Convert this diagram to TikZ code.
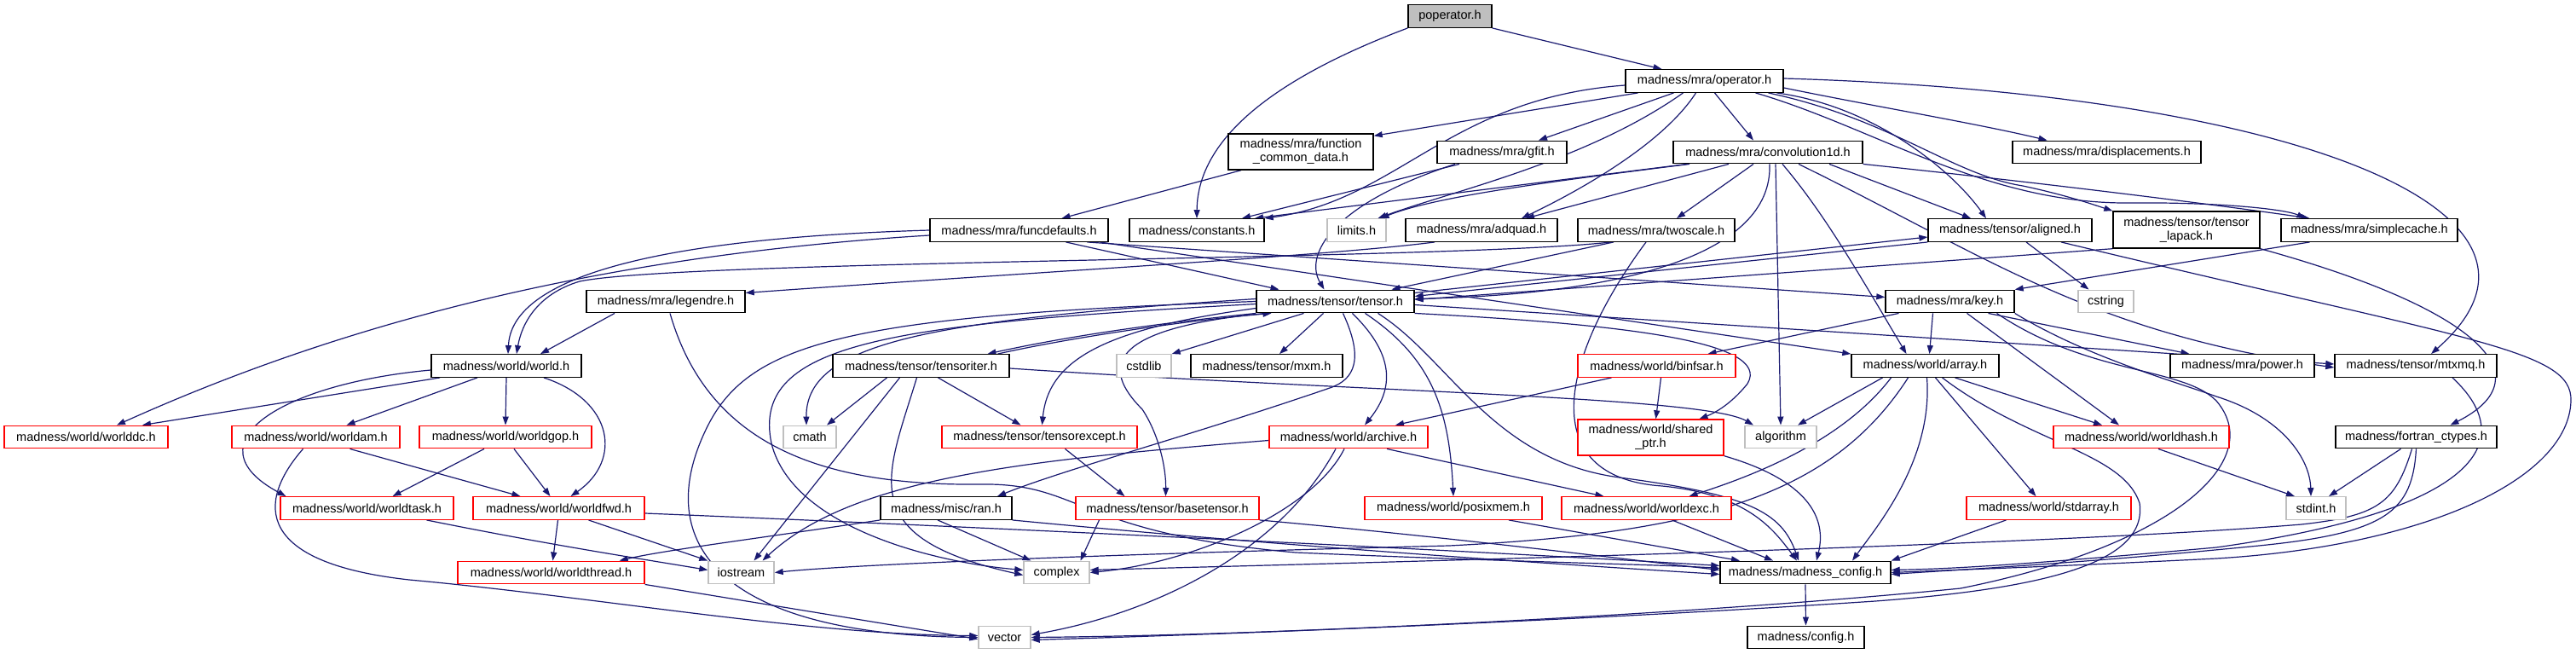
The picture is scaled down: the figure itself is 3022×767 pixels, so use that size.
\documentclass[tikz,border=0pt]{standalone}
\usepackage{fontspec}
\setmainfont{Liberation Sans}
\usetikzlibrary{arrows.meta}
\definecolor{edgec}{HTML}{191970}
\definecolor{grayc}{HTML}{BFBFBF}
\pgfdeclarelayer{bg}
\pgfdeclarelayer{back}
\pgfsetlayers{back,bg,main}
\begin{document}
\begin{tikzpicture}[x=1pt,y=-1pt,
  nb/.style={draw=black, line width=1.4pt, fill=white, inner sep=0pt, minimum height=26.5pt, font=\fontsize{14.5}{16}\selectfont, text=black, align=center},
  nr/.style={nb, draw=red},
  ng/.style={nb, draw=grayc},
  e/.style={draw=edgec, line width=1.2pt, -{Triangle[length=10pt,width=7pt]}}]
\begin{pgfonlayer}{back}
\fill[white] (0,0) rectangle (3022,767);
\end{pgfonlayer}
\useasboundingbox (0,0) rectangle (3022,767);
% nodes
\node[nb, fill=grayc, minimum width=98pt] (pop) at (1701,19) {poperator.h};
\node[nb, minimum width=185pt] (op) at (1999.5,95) {madness/mra/operator.h};
\node[nb, minimum width=170pt, minimum height=42pt] (fcd) at (1526,178) {madness/mra/function\\\_common\_data.h};
\node[nb, minimum width=152pt] (gfit) at (1762,178.5) {madness/mra/gfit.h};
\node[nb, minimum width=222pt] (conv) at (2074,178.5) {madness/mra/convolution1d.h};
\node[nb, minimum width=221pt] (disp) at (2471.5,178.5) {madness/mra/displacements.h};
\node[nb, minimum width=209pt] (fd) at (1195.5,270) {madness/mra/funcdefaults.h};
\node[nb, minimum width=158pt] (const) at (1404,270) {madness/constants.h};
\node[ng, minimum width=69pt] (limits) at (1591.5,270) {limits.h};
\node[nb, minimum width=178pt] (adq) at (1738,270) {madness/mra/adquad.h};
\node[nb, minimum width=184pt] (twos) at (1943,270) {madness/mra/twoscale.h};
\node[nb, minimum width=192pt] (ali) at (2358,270) {madness/tensor/aligned.h};
\node[nb, minimum width=172pt, minimum height=43pt] (tl) at (2565,269.5) {madness/tensor/tensor\\\_lapack.h};
\node[nb, minimum width=207pt] (sc) at (2779.5,270) {madness/mra/simplecache.h};
\node[nb, minimum width=186pt] (leg) at (781,353.5) {madness/mra/legendre.h};
\node[nb, minimum width=185pt] (ten) at (1566.5,353.5) {madness/tensor/tensor.h};
\node[nb, minimum width=151pt] (key) at (2287.5,353.5) {madness/mra/key.h};
\node[ng, minimum width=65pt] (cstr) at (2470.5,353.5) {cstring};
\node[nb, minimum width=176pt] (world) at (594,429) {madness/world/world.h};
\node[nb, minimum width=207pt] (ti) at (1080.5,429) {madness/tensor/tensoriter.h};
\node[ng, minimum width=64pt] (cstd) at (1342,429) {cstdlib};
\node[nb, minimum width=178pt] (mxm) at (1486,429) {madness/tensor/mxm.h};
\node[nr, minimum width=185pt] (bin) at (1943.5,429) {madness/world/binfsar.h};
\node[nb, minimum width=173pt] (arr) at (2258.5,429) {madness/world/array.h};
\node[nb, minimum width=169pt] (pow) at (2630.5,429) {madness/mra/power.h};
\node[nb, minimum width=190pt] (mtx) at (2834,429) {madness/tensor/mtxmq.h};
\node[nr, minimum width=192pt] (wdc) at (101,512.5) {madness/world/worlddc.h};
\node[nr, minimum width=197pt] (wam) at (370.5,512.5) {madness/world/worldam.h};
\node[nr, minimum width=202pt] (wgop) at (593,512.5) {madness/world/worldgop.h};
\node[ng, minimum width=62pt] (cmath) at (950,512.5) {cmath};
\node[nr, minimum width=229pt] (tex) at (1219.5,512.5) {madness/tensor/tensorexcept.h};
\node[nr, minimum width=186pt] (arch) at (1582,512.5) {madness/world/archive.h};
\node[nr, minimum width=171pt, minimum height=42pt] (sp) at (1936.5,513) {madness/world/shared\\\_ptr.h};
\node[ng, minimum width=84pt] (alg) at (2089,512.5) {algorithm};
\node[nr, minimum width=206pt] (whash) at (2512,512.5) {madness/world/worldhash.h};
\node[nb, minimum width=189pt] (fort) at (2834.5,512.5) {madness/fortran\_ctypes.h};
\node[nr, minimum width=203pt] (wtask) at (430.5,596) {madness/world/worldtask.h};
\node[nr, minimum width=201pt] (wfwd) at (655.5,596) {madness/world/worldfwd.h};
\node[nb, minimum width=154pt] (ran) at (1110,596) {madness/misc/ran.h};
\node[nr, minimum width=215pt] (bt) at (1369.5,596) {madness/tensor/basetensor.h};
\node[nr, minimum width=208pt] (pmem) at (1705,596) {madness/world/posixmem.h};
\node[nr, minimum width=199pt] (wexc) at (1931.5,596) {madness/world/worldexc.h};
\node[nr, minimum width=193pt] (sarr) at (2403.5,596) {madness/world/stdarray.h};
\node[ng, minimum width=70pt] (sint) at (2717,596) {stdint.h};
\node[nr, minimum width=219pt] (wthr) at (646.5,671.5) {madness/world/worldthread.h};
\node[ng, minimum width=77pt] (ios) at (869.5,671.5) {iostream};
\node[ng, minimum width=77pt] (cplx) at (1239.5,671.5) {complex};
\node[nb, minimum width=200pt] (mc) at (2118,671.5) {madness/madness\_config.h};
\node[ng, minimum width=61pt] (vec) at (1178.5,747.5) {vector};
\node[nb, minimum width=137pt] (cfg) at (2118.5,747.5) {madness/config.h};
\begin{pgfonlayer}{bg}
% poperator
\draw[e] (pop.south east) -- ([xshift=-50pt]op.north);
\draw[e] (pop.south west) .. controls (1500,90) and (1405,160) .. (const.north);
% operator
\draw[e] ([yshift=-5pt]op.west) .. controls (1700,115) and (1640,235) .. (const.north east);
\draw[e] ([xshift=-78pt]op.south) -- ([yshift=-3pt]fcd.north east);
\draw[e] ([xshift=-36pt]op.south) -- ([xshift=43pt]gfit.north);
\draw[e] ([xshift=-25pt]op.south) .. controls (1860,190) and (1700,225) .. ([xshift=25pt]limits.north);
\draw[e] ([xshift=-10pt]op.south) .. controls (1950,170) and (1850,225) .. ([xshift=47pt]adq.north);
\draw[e] ([xshift=12pt]op.south) -- ([xshift=-17pt]conv.north);
\draw[e] ([yshift=-8pt]op.east) .. controls (2200,125) and (2320,145) .. ([xshift=-70pt]disp.north);
\draw[e] ([yshift=3pt]op.east) .. controls (2700,110) and (3040,250) .. ([xshift=18pt]mtx.north);
\draw[e] ([xshift=60pt]op.south) .. controls (2200,150) and (2330,240) .. (2500,238) .. controls (2600,237) and (2680,245) .. ([xshift=-75pt]sc.north);
\draw[e] ([xshift=75pt]op.south) .. controls (2220,140) and (2290,205) .. (2373,218) .. controls (2420,228) and (2450,238) .. (tl.north west);
\draw[e] ([xshift=85pt]op.south) .. controls (2200,125) and (2290,200) .. ([xshift=-28pt]ali.north);
% convolution1d
\draw[e] ([xshift=-95pt]conv.south) -- ([xshift=68pt]const.north);
\draw[e] ([xshift=-92pt]conv.south) .. controls (1800,215) and (1680,232) .. ([xshift=28pt]limits.north);
\draw[e] ([xshift=-46pt]conv.south) -- ([xshift=52pt]adq.north);
\draw[e] ([xshift=-17pt]conv.south) -- ([xshift=24pt]twos.north);
\draw[e] ([xshift=2pt]conv.south) .. controls (2080,300) and (1900,345) .. ([yshift=3pt]ten.east);
\draw[e] ([xshift=9pt]conv.south) -- (alg.north);
\draw[e] ([xshift=17pt]conv.south) .. controls (2140,250) and (2180,320) .. ([xshift=-22pt]arr.north);
\draw[e] ([xshift=72pt]conv.south) -- ([xshift=-46pt]ali.north);
\draw[e] (conv.south east) .. controls (2400,215) and (2600,240) .. ([xshift=-70pt]sc.north);
\draw[e] ([xshift=36pt]conv.south) .. controls (2330,300) and (2450,390) .. ([yshift=-2pt]mtx.west);
% fcd, gfit
\draw[e] ([xshift=-70pt]fcd.south) -- ([xshift=50pt]fd.north);
\draw[e] ([xshift=-50pt]gfit.south) -- ([xshift=53pt]const.north);
\draw[e] ([xshift=-55pt]gfit.south) .. controls (1560,240) and (1530,300) .. ([xshift=-13pt]ten.north);
% funcdefaults
\draw[e] (fd.west) .. controls (750,280) and (600,330) .. ([xshift=2pt]world.north);
\draw[e] ([yshift=-6pt]fd.west) .. controls (700,300) and (400,380) .. ([xshift=36pt]wdc.north);
\draw[e] ([xshift=55pt]fd.south) -- ([xshift=-66pt]ten.north);
\draw[e] ([xshift=80pt]fd.south) -- ([yshift=5pt]key.west);
\draw[e] ([xshift=95pt]fd.south) -- (arr.north west);
% legendre, adquad, twoscale
\draw[e] ([xshift=-60pt]leg.south) -- ([xshift=40pt]world.north);
\draw[e] ([xshift=5pt]leg.south) .. controls (830,520) and (960,570) .. (1150,568) .. controls (1270,566) and (1260,625) .. (1520,648) .. controls (1800,660) and (1950,662) .. ([yshift=5pt]mc.west);
\draw[e] ([xshift=-55pt]adq.south) .. controls (1560,300) and (1200,320) .. ([yshift=10pt]leg.east);
\draw[e] ([xshift=-53pt]twos.south) .. controls (1700,305) and (800,305) .. (680,330) .. controls (630,345) and (612,380) .. ([xshift=12pt]world.north);
\draw[e] ([xshift=-50pt]twos.south) -- ([xshift=66pt]ten.north);
\draw[e] ([xshift=-12pt]twos.south) .. controls (1830,420) and (1800,560) .. (1950,570) .. controls (2050,580) and (2080,620) .. ([xshift=-10pt]mc.north);
% aligned, tensor_lapack, simplecache
\draw[e] ([yshift=10pt]ten.east) -- ([yshift=-8pt]ali.west);
\draw[e] (ali.south west) -- ([yshift=6pt]ten.east);
\draw[e] ([xshift=19pt]ali.south) -- ([xshift=-20pt]cstr.north);
\draw[e] ([xshift=60pt]ali.south) .. controls (2900,400) and (3018,410) .. (3016,470) .. controls (3014,560) and (2850,640) .. (2600,655) .. controls (2400,665) and (2300,668) .. (mc.east);
\draw[e] (tl.south west) -- ([yshift=2pt]ten.east);
\draw[e] (tl.south east) .. controls (2900,360) and (2990,440) .. ([xshift=40pt]fort.north);
\draw[e] ([xshift=-70pt]sc.south) -- (key.north east);
% key
\draw[e] ([xshift=-20pt]key.south) -- ([xshift=5pt]arr.north);
\draw[e] ([xshift=-60pt]key.south) -- ([xshift=60pt]bin.north);
\draw[e] ([xshift=20pt]key.south) -- ([xshift=-26pt]whash.north);
\draw[e] ([xshift=45pt]key.south) -- ([xshift=-62pt]pow.north);
\draw[e] (key.south east) .. controls (2450,420) and (2560,450) .. (2600,465) .. controls (2680,490) and (2710,540) .. ([xshift=-6pt]sint.north);
\draw[e] ([xshift=55pt]key.south) .. controls (2450,440) and (2560,430) .. (2600,470) .. controls (2660,540) and (2550,640) .. (2300,690) .. controls (2000,720) and (1500,745) .. (vec.east);
% array
\draw[e] ([xshift=-50pt]arr.south) -- ([xshift=20pt]alg.north);
\draw[e] ([xshift=-40pt]arr.south) .. controls (2160,520) and (2050,560) .. ([xshift=50pt]wexc.north);
\draw[e] ([xshift=2pt]arr.south) .. controls (2268,540) and (2200,620) .. ([xshift=55pt]mc.north);
\draw[e] ([xshift=-20pt]arr.south) .. controls (2150,580) and (2000,625) .. (1700,640) .. controls (1300,650) and (1000,662) .. (ios.east);
\draw[e] ([xshift=35pt]arr.south) -- ([xshift=-46pt]whash.north);
\draw[e] ([xshift=12pt]arr.south) -- ([xshift=-15pt]sarr.north);
\draw[e] ([xshift=20pt]arr.south) .. controls (2380,520) and (2490,530) .. (2510,590) .. controls (2520,660) and (2400,690) .. (2200,705) .. controls (1900,725) and (1500,742) .. ([yshift=-3pt]vec.east);
% worldhash, stdarray, mtxmq, fortran, config
\draw[e] ([xshift=20pt]whash.south) -- ([xshift=-25pt]sint.north);
\draw[e] ([xshift=-50pt]sarr.south) -- (mc.north east);
\draw[e] ([xshift=43pt]mtx.south) .. controls (2960,520) and (2900,600) .. (2600,642) .. controls (2400,660) and (2300,667) .. ([yshift=3pt]mc.east);
\draw[e] ([xshift=-18pt]fort.south) -- ([xshift=15pt]sint.north);
\draw[e] ([xshift=-5pt]fort.south) .. controls (2810,590) and (2790,605) .. (2700,615) .. controls (2400,640) and (1600,660) .. ([yshift=3pt]cplx.east);
\draw[e] (fort.south) .. controls (2830,600) and (2800,625) .. (2650,640) .. controls (2450,660) and (2300,668) .. ([yshift=-2pt]mc.east);
\draw[e] (mc.south) -- (cfg.north);
% tensor
\draw[e] (ten.south west) .. controls (1350,380) and (1250,395) .. ([xshift=78pt]ti.north);
\draw[e] ([xshift=90pt]ti.north) .. controls (1260,395) and (1400,375) .. ([xshift=-75pt]ten.south);
\draw[e] ([yshift=3pt]ten.west) .. controls (1100,375) and (945,400) .. ([xshift=-4pt]cmath.north);
\draw[e] (ten.west) .. controls (1000,370) and (880,400) .. (830,500) .. controls (760,640) and (850,745) .. (vec.west);
\draw[e] ([yshift=-3pt]ten.west) .. controls (1050,380) and (880,400) .. (905,520) .. controls (930,620) and (1100,660) .. ([yshift=3pt]cplx.west);
\draw[e] ([xshift=-37pt]ten.south) -- (cstd.north east);
\draw[e] ([xshift=-14pt]ten.south) -- ([xshift=15pt]mxm.north);
\draw[e] ([yshift=-8pt]ten.west) .. controls (1300,385) and (1230,420) .. ([xshift=3pt]tex.north);
\draw[e] ([xshift=-82pt]ten.south) .. controls (1300,385) and (1290,430) .. (1340,480) .. controls (1360,510) and (1368,550) .. ([xshift=-2pt]bt.north);
\draw[e] ([xshift=20pt]ten.south) .. controls (1630,410) and (1640,450) .. ([xshift=19pt]arch.north);
\draw[e] ([xshift=9pt]ten.south) .. controls (1600,420) and (1590,445) .. (1560,455) .. controls (1400,510) and (1250,550) .. ([xshift=60pt]ran.north);
\draw[e] ([xshift=35pt]ten.south) .. controls (1680,420) and (1700,480) .. (pmem.north);
\draw[e] ([xshift=50pt]ten.south) .. controls (1700,420) and (1750,540) .. (1900,560) .. controls (2050,580) and (2090,600) .. ([xshift=-8pt]mc.north);
\draw[e] (ten.south east) .. controls (1900,380) and (2080,400) .. (2050,450) .. controls (2030,475) and (2010,485) .. ([xshift=57pt]sp.north);
\draw[e] ([yshift=-4pt]ten.east) -- ([yshift=2pt]mtx.west);
% tensoriter
\draw[e] ([xshift=-40pt]ti.south) -- ([xshift=20pt]cmath.north);
\draw[e] ([xshift=-25pt]ti.south) -- ([xshift=15pt]ios.north);
\draw[e] ([xshift=-5pt]ti.south) .. controls (1040,560) and (1000,630) .. ([yshift=-3pt]cplx.west);
\draw[e] ([xshift=20pt]ti.south) -- ([xshift=-22pt]tex.north);
\draw[e] ([yshift=-3pt]ti.east) .. controls (1600,460) and (2000,465) .. ([xshift=-32pt]alg.north);
% tensorexcept, basetensor, ran
\draw[e] ([xshift=30pt]tex.south) -- ([xshift=-50pt]bt.north);
\draw[e] ([xshift=-80pt]bt.south) -- ([xshift=28pt]cplx.north);
\draw[e] (bt.south east) .. controls (1700,630) and (1900,655) .. ([yshift=3pt]mc.west);
\draw[e] ([xshift=-10pt]ran.south) -- ([xshift=-30pt]cplx.north);
\draw[e] (ran.south west) .. controls (900,630) and (780,645) .. ([xshift=-30pt]wthr.north east);
\draw[e] (ran.south east) .. controls (1500,640) and (1800,660) .. ([yshift=-2pt]mc.west);
% archive, binfsar, shared_ptr, posixmem, worldexc
\draw[e] ([yshift=-4pt]arch.west) .. controls (1200,540) and (1000,560) .. ([xshift=25pt]ios.north);
\draw[e] ([xshift=-5pt]arch.south) .. controls (1540,600) and (1400,660) .. (cplx.east);
\draw[e] ([xshift=-15pt]arch.south) .. controls (1500,650) and (1350,720) .. ([yshift=3pt]vec.east);
\draw[e] ([xshift=45pt]arch.south) -- ([xshift=-50pt]wexc.north);
\draw[e] ([xshift=-53pt]bin.south) -- ([xshift=55pt]arch.north);
\draw[e] ([xshift=5pt]bin.south) -- ([xshift=6pt]sp.north);
\draw[e] (sp.south east) .. controls (2110,560) and (2145,600) .. ([xshift=13pt]mc.north);
\draw[e] ([xshift=65pt]pmem.south) -- ([xshift=-77pt]mc.north);
\draw[e] ([xshift=30pt]wexc.south) -- ([xshift=-38pt]mc.north);
% world
\draw[e] ([xshift=-78pt]world.south) -- ([xshift=66pt]wdc.north);
\draw[e] ([xshift=-34pt]world.south) -- ([xshift=36pt]wam.north);
\draw[e] (world.south) -- (wgop.north);
\draw[e] ([yshift=-5pt]world.west) .. controls (330,450) and (220,520) .. ([xshift=-95pt]wtask.north);
\draw[e] ([xshift=44pt]world.south) .. controls (720,470) and (730,540) .. ([xshift=14pt]wfwd.north);
\draw[e] ([xshift=40pt]wam.south) -- ([xshift=-45pt]wfwd.north);
\draw[e] ([xshift=-15pt]wam.south) .. controls (300,590) and (300,660) .. (480,680) .. controls (700,700) and (950,745) .. ([yshift=2pt]vec.west);
\draw[e] ([xshift=-25pt]wgop.south) -- ([xshift=30pt]wtask.north);
\draw[e] ([xshift=10pt]wgop.south) -- ([xshift=-10pt]wfwd.north);
\draw[e] ([xshift=70pt]wtask.south) .. controls (650,640) and (750,655) .. ([yshift=3pt]ios.west);
\draw[e] ([xshift=-1pt]wfwd.south) -- ([xshift=2pt]wthr.north);
\draw[e] ([xshift=35pt]wfwd.south) -- (ios.north west);
\draw[e] ([yshift=-6pt]wfwd.east) .. controls (1200,620) and (1800,650) .. ([yshift=8pt]mc.west);
\draw[e] (wthr.south east) -- ([yshift=-2pt]vec.west);
\end{pgfonlayer}
\end{tikzpicture}
\end{document}
